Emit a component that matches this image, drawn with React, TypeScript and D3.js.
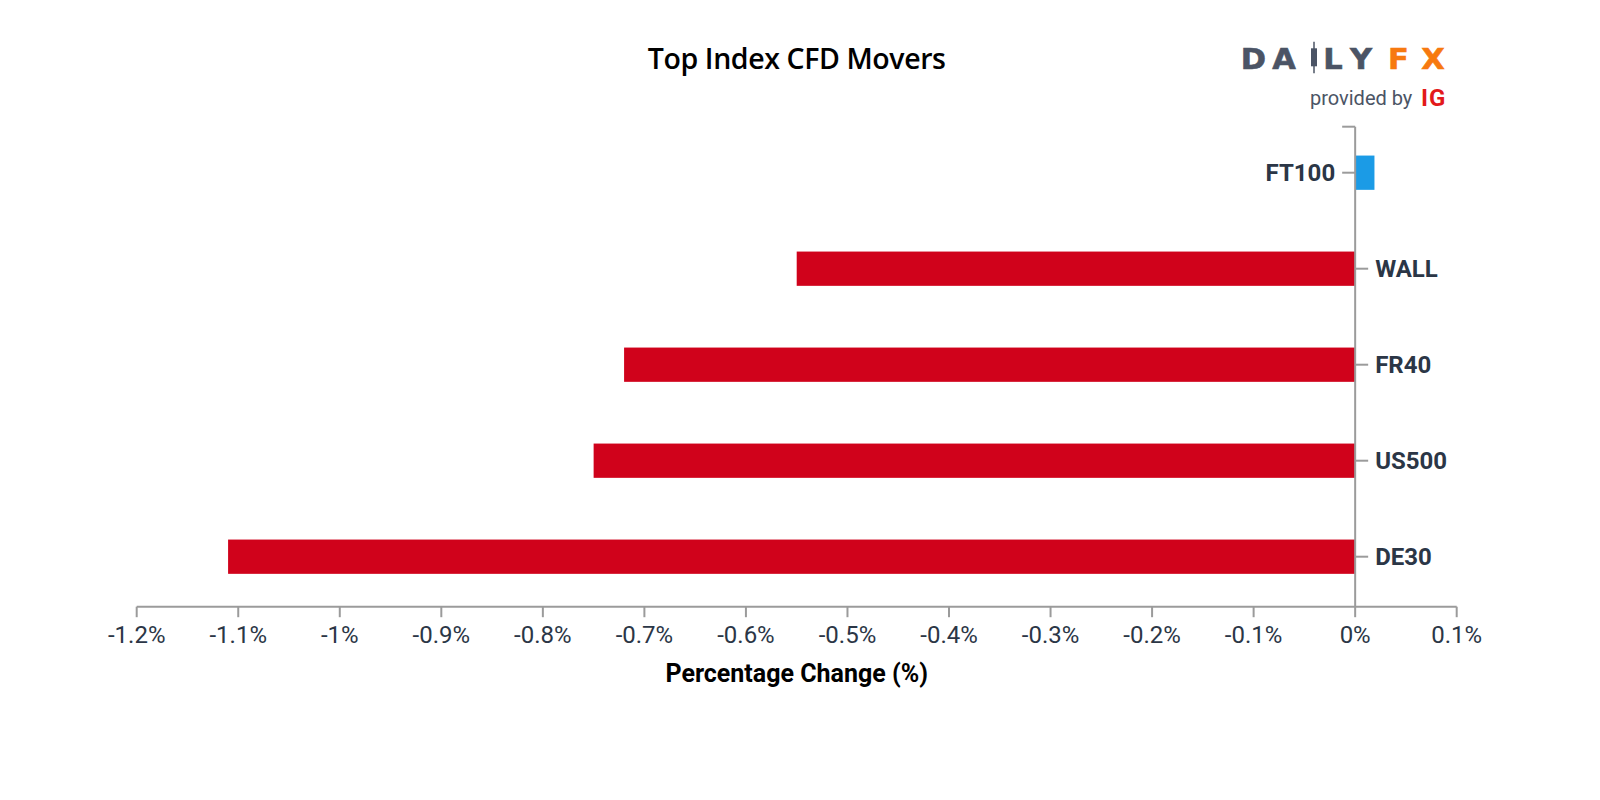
import React from "react";
import * as d3 from "d3";

const categories = ["FT100", "WALL", "FR40", "US500", "DE30"];
const values = [0.019, -0.55, -0.72, -0.75, -1.11];
const xTicks = [-1.2, -1.1, -1.0, -0.9, -0.8, -0.7, -0.6, -0.5, -0.4, -0.3, -0.2, -0.1, 0, 0.1];
const title = "Top Index CFD Movers";
const xLabel = "Percentage Change (%)";

const W = 1600;
const H = 800;
const left = 136.7;
const right = 1456.7;
const top = 126.7;
const bottom = 606.7;

const RED = "#d0021b";
const BLUE = "#1b9be6";
const AXIS = "#9b9b9b";
const TEXT = "#2b3646";

export default function App() {
  const x = d3.scaleLinear().domain([-1.2, 0.1]).range([left, right]);
  const y = d3
    .scaleBand<string>()
    .domain(categories)
    .range([top - 2, bottom - 2])
    .paddingInner(0.643)
    .paddingOuter(0.3215);
  const x0 = x(0);
  const fmt = (v: number) => `${+v.toFixed(1)}%`;

  const logoLetters = [
    { ch: "D", cx: 1253.5, c: "#4b5465" },
    { ch: "A", cx: 1284, c: "#4b5465" },
    { ch: "L", cx: 1333, c: "#4b5465" },
    { ch: "Y", cx: 1361, c: "#4b5465" },
    { ch: "F", cx: 1398.5, c: "#f7790f" },
    { ch: "X", cx: 1433, c: "#f7790f" },
  ];

  return (
    <svg
      width={W}
      height={H}
      style={{ position: "absolute", left: 0, top: 0, background: "#fff" }}
    >
      <rect width={W} height={H} fill="#fff" />
      {/* Title */}
      <text
        x={(left + right) / 2}
        y={69.3}
        textAnchor="middle"
        fontFamily="'Open Sans', 'Noto Sans', sans-serif"
        fontWeight={600}
        fontSize={28.5}
        fill="#000"
        letterSpacing={-0.4}
      >
        {title}
      </text>

      {/* Logo */}
      <g>
        {logoLetters.map((l) => (
          <text
            key={l.ch}
            x={l.cx}
            y={69.5}
            textAnchor="middle"
            fontFamily="'DejaVu Sans', sans-serif"
            fontWeight={700}
            fontSize={29}
            fill={l.c}
            stroke={l.c}
            strokeWidth={0.6}
            transform={`translate(${l.cx},69.5) scale(1.05,1) translate(${-l.cx},-69.5)`}
          >
            {l.ch}
          </text>
        ))}
        <line x1={1314} x2={1314} y1={41.7} y2={73.3} stroke="#4b5465" strokeWidth={1.5} />
        <rect x={1311} y={48.3} width={6} height={18} fill="#4b5465" />
        <text
          x={1310}
          y={105}
          fontFamily="Roboto, sans-serif"
          fontSize={20}
          fill="#4b5465"
        >
          provided by
        </text>
        <text
          x={1421}
          y={106}
          fontFamily="Roboto, sans-serif"
          fontWeight={700}
          fontSize={24}
          fill="#e3191b"
          letterSpacing={1}
        >
          IG
        </text>
      </g>

      {/* Bars */}
      {categories.map((c, i) => {
        const v = values[i];
        const bx = Math.min(x(v), x0);
        const bw = Math.abs(x(v) - x0);
        return (
          <rect
            key={c}
            x={bx}
            y={y(c)}
            width={bw}
            height={y.bandwidth()}
            fill={v >= 0 ? BLUE : RED}
          />
        );
      })}

      {/* X axis */}
      <line x1={left} x2={right} y1={bottom} y2={bottom} stroke={AXIS} strokeWidth={2} />
      {xTicks.map((t) => (
        <g key={t} transform={`translate(${x(t)},${bottom})`}>
          <line y1={0} y2={10.5} stroke={AXIS} strokeWidth={2} />
          <text
            y={36.5}
            textAnchor="middle"
            fontFamily="Roboto, sans-serif"
            fontSize={24}
            fill={TEXT}
          >
            {fmt(t)}
          </text>
        </g>
      ))}
      <text
        x={(left + right) / 2}
        y={682.3}
        textAnchor="middle"
        fontFamily="Roboto, sans-serif"
        fontWeight={700}
        fontSize={25}
        fill="#000"
      >
        {xLabel}
      </text>

      {/* Y axis */}
      <line x1={x0} x2={x0} y1={top} y2={bottom} stroke={AXIS} strokeWidth={2} />
      <line x1={x0 - 13} x2={x0} y1={top} y2={top} stroke={AXIS} strokeWidth={2} />
      {categories.map((c, i) => {
        const v = values[i];
        const cy = (y(c) as number) + y.bandwidth() / 2;
        const dir = v >= 0 ? -1 : 1;
        return (
          <g key={c}>
            <line x1={x0} x2={x0 + dir * 13} y1={cy} y2={cy} stroke={AXIS} strokeWidth={2} />
            <text
              x={x0 + dir * 20}
              y={cy}
              dy="0.35em"
              textAnchor={dir < 0 ? "end" : "start"}
              fontFamily="Roboto, sans-serif"
              fontWeight={700}
              fontSize={24}
              fill={TEXT}
            >
              {c}
            </text>
          </g>
        );
      })}
    </svg>
  );
}
